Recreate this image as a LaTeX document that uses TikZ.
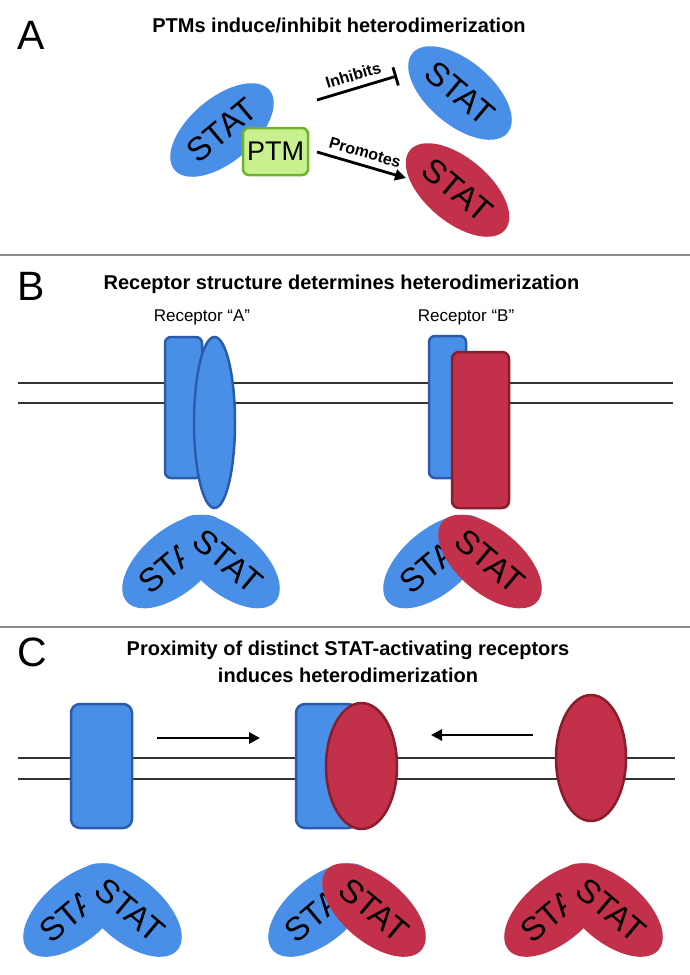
\documentclass[tikz,border=0pt]{standalone}
\usepackage{fontspec}
\setmainfont{Liberation Sans}
\usetikzlibrary{arrows.meta}
\definecolor{bfill}{HTML}{4A8FE7}
\definecolor{bline}{HTML}{2A5CAE}
\definecolor{rfill}{HTML}{C3304A}
\definecolor{rline}{HTML}{8A1C2C}
\definecolor{pfill}{HTML}{C8F08F}
\definecolor{pline}{HTML}{6FB22C}
\definecolor{sepc}{HTML}{8C8C8C}
\definecolor{membc}{HTML}{333333}
\begin{document}
\begin{tikzpicture}[x=1pt,y=1pt,
  panellbl/.style={font=\fontsize{41}{41}\selectfont, anchor=base west, inner sep=0pt},
  ttl/.style={font=\bfseries\fontsize{20}{27}\selectfont, anchor=base, inner sep=0pt, align=center},
  stattxt/.style={font=\fontsize{33}{33}\selectfont, inner sep=0pt},
  reclbl/.style={font=\fontsize{17}{17}\selectfont, anchor=base, inner sep=0pt},
  conlbl/.style={font=\bfseries\fontsize{16}{16}\selectfont, inner sep=3pt},
  memb/.style={line width=1.5pt, draw=membc},
  sepline/.style={line width=1.3pt, draw=sepc},
  brec/.style={fill=bfill, draw=bline, line width=2.5pt},
  rrec/.style={fill=rfill, draw=rline, line width=2.5pt},
  conn/.style={line width=2.8pt, draw=black},
  arrowtip/.style={-{Triangle[length=11pt,width=11pt]}},
]
\useasboundingbox (0,0) rectangle (690,-975);
\fill[white] (0,0) rectangle (690,-975);

% ---------------- Panel A ----------------
\node[panellbl] (labA) at (17,-49) {A};
\node[ttl] (ttlA) at (339,-32) {PTMs induce/inhibit heterodimerization};

\fill[bfill] (222,-130) circle[x radius=62, y radius=32, rotate=40];
\node[stattxt, rotate=40] (statA) at (222,-130) {STAT};
\draw[fill=pfill, draw=pline, line width=2.5pt, rounded corners=6pt] (243,-128) rectangle (308,-175);
\node[font=\fontsize{27}{27}\selectfont, inner sep=0pt] (ptm) at (275.5,-151.5) {PTM};

\fill[bfill] (460,-93) circle[x radius=62, y radius=32, rotate=-40];
\node[stattxt, rotate=-40] (statB) at (460,-93) {STAT};
\fill[rfill] (457.5,-190) circle[x radius=62, y radius=32, rotate=-40];
\node[stattxt, rotate=-40] (statR) at (457.5,-190) {STAT};

\coordinate (inhS) at (317,-100);
\coordinate (inhE) at (397,-76);
\coordinate (proS) at (317,-152);
\coordinate (proE) at (406,-178);
\draw[conn, -{Bar[width=19pt]}] (inhS) -- (inhE)
  node[conlbl, midway, above=3pt, sloped] {Inhibits};
\draw[conn, arrowtip] (proS) -- (proE)
  node[conlbl, midway, above=3pt, sloped] {Promotes};

\draw[sepline] (0,-255) -- (690,-255);

% ---------------- Panel B ----------------
\node[panellbl] (labB) at (17,-300) {B};
\node[ttl] (ttlB) at (341.5,-289) {Receptor structure determines heterodimerization};
\node[reclbl] (recA) at (202,-321) {Receptor “A”};
\node[reclbl] (recB) at (466,-321) {Receptor “B”};

\draw[memb] (18,-383) -- (673,-383);
\draw[memb] (18,-403) -- (673,-403);

\draw[brec, rounded corners=6pt] (165,-337) rectangle (202,-478);
\draw[brec] (214.5,-422.5) ellipse[x radius=20.5, y radius=85.5];

\draw[brec, rounded corners=6pt] (429,-336) rectangle (466,-478);
\draw[rrec, rounded corners=7pt] (452,-352) rectangle (509,-508);

% dimer A (blue/blue)
\fill[bfill] (174,-561.5) circle[x radius=62, y radius=32, rotate=40];
\node[stattxt, rotate=40] (dA1) at (174,-561.5) {STAT};
\fill[bfill] (228,-561.5) circle[x radius=62, y radius=32, rotate=-40];
\node[stattxt, rotate=-40] (dA2) at (228,-561.5) {STAT};
% dimer B (blue/red)
\fill[bfill] (435,-561.5) circle[x radius=62, y radius=32, rotate=40];
\node[stattxt, rotate=40] (dB1) at (435,-561.5) {STAT};
\fill[rfill] (490,-561.5) circle[x radius=62, y radius=32, rotate=-40];
\node[stattxt, rotate=-40] (dB2) at (490,-561.5) {STAT};

\draw[sepline] (0,-627) -- (690,-627);

% ---------------- Panel C ----------------
\node[panellbl] (labC) at (17,-666) {C};
\node[ttl] (ttlC) at (348,-682) {Proximity of distinct STAT-activating receptors\\induces heterodimerization};

\draw[memb] (18,-758) -- (675,-758);
\draw[memb] (18,-779) -- (675,-779);

\draw[brec, rounded corners=9pt] (71,-704) rectangle (132,-828);
\draw[brec, rounded corners=9pt] (296,-704) rectangle (357,-828);
\draw[rrec] (361.5,-766) ellipse[x radius=35.5, y radius=63];
\draw[rrec] (591,-758) ellipse[x radius=35, y radius=63];

\coordinate (arR1) at (157,-738);
\coordinate (arR2) at (260,-738);
\coordinate (arL1) at (533,-735);
\coordinate (arL2) at (431,-735);
\draw[conn, arrowtip] (arR1) -- (arR2);
\draw[conn, arrowtip] (arL1) -- (arL2);

% dimers C
\fill[bfill] (75,-910) circle[x radius=62, y radius=32, rotate=40];
\node[stattxt, rotate=40] (dC1) at (75,-910) {STAT};
\fill[bfill] (130,-910) circle[x radius=62, y radius=32, rotate=-40];
\node[stattxt, rotate=-40] (dC2) at (130,-910) {STAT};

\fill[bfill] (320,-910) circle[x radius=62, y radius=32, rotate=40];
\node[stattxt, rotate=40] (dC3) at (320,-910) {STAT};
\fill[rfill] (374,-910) circle[x radius=62, y radius=32, rotate=-40];
\node[stattxt, rotate=-40] (dC4) at (374,-910) {STAT};

\fill[rfill] (556,-910) circle[x radius=62, y radius=32, rotate=40];
\node[stattxt, rotate=40] (dC5) at (556,-910) {STAT};
\fill[rfill] (611,-910) circle[x radius=62, y radius=32, rotate=-40];
\node[stattxt, rotate=-40] (dC6) at (611,-910) {STAT};
\end{tikzpicture}
\end{document}
